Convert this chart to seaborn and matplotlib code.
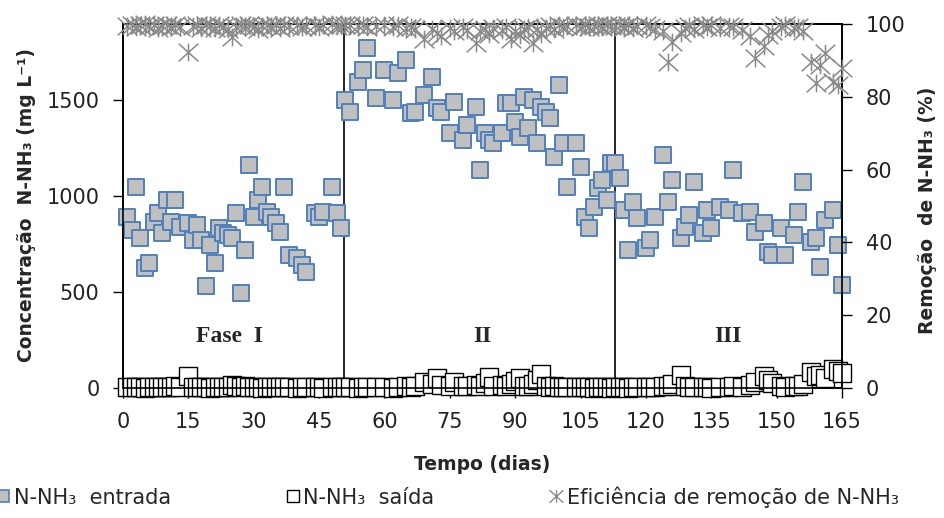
import numpy as np
import pandas as pd
import matplotlib
matplotlib.use("Agg")
import matplotlib.pyplot as plt
import seaborn as sns
from matplotlib.path import Path
from matplotlib.lines import Line2D

# ---------------- data ----------------
dias = [1, 2, 3, 4, 5, 6, 7, 8, 9, 10, 11, 12, 13, 15, 16, 17, 18, 19, 20, 21,
        22, 23, 24, 25, 26, 27, 28, 29, 30, 31, 32, 33, 34, 35, 36, 37, 38, 40, 41, 42,
        44, 45, 46, 48, 49, 50,
        51, 52, 54, 55, 56, 58, 60, 62, 63, 65, 66, 67, 69, 71, 72, 73, 75, 76, 78, 79,
        81, 82, 83, 84, 85, 87, 88, 89, 90, 91, 92, 93, 94, 95, 96, 97, 98, 99, 100, 101,
        102, 104, 105, 106, 107, 108, 109, 110, 111, 112,
        113, 114, 115, 116, 117, 118, 120, 121, 122, 124, 125, 126, 128, 129, 130, 131, 133, 134, 135, 137,
        139, 140, 142, 144, 145, 147, 148, 149, 151, 152, 154, 155, 156, 158, 159, 160, 161, 163, 164, 165]

entrada = [891, 823, 1047, 781, 625, 651, 865, 911, 807, 979, 865, 979, 838, 859, 771, 849, 771, 531, 745, 651,
           833, 807, 797, 781, 911, 495, 719, 1161, 891, 979, 1047, 917, 891, 859, 813, 1047, 693, 677, 641, 604,
           911, 891, 917, 1047, 911, 833,
           1500, 1438, 1594, 1656, 1771, 1510, 1656, 1500, 1640, 1708, 1432, 1438, 1526, 1620, 1458, 1438, 1328, 1490, 1292, 1370,
           1464, 1135, 1328, 1292, 1276, 1328, 1484, 1484, 1385, 1307, 1516, 1354, 1500, 1276, 1464, 1438, 1406, 1203, 1578, 1276,
           1047, 1276, 1151, 891, 833, 943, 1042, 1083, 979, 1172,
           1172, 1094, 927, 719, 969, 885, 729, 771, 891, 1214, 969, 1083, 781, 838, 901, 1073, 807, 927, 833, 943,
           927, 1135, 911, 917, 813, 859, 708, 693, 833, 693, 797, 917, 1073, 760, 781, 630, 875, 927, 745, 536]

saida = [4, 6, 3, 5, 2, 7, 4, 3, 6, 5, 3, 8, 4, 62, 5, 3, 6, 4, 2, 5,
         7, 4, 6, 18, 12, 5, 10, 3, 6, 4, 2, 5, 3, 6, 4, 3, 5, 2, 4, 6,
         3, 5, 2, 4, 3, 5,
         3, 5, 2, 4, 6, 3, 5, 2, 4, 8, 6, 12, 30, 20, 52, 15, 10, 31, 8, 12,
         18, 10, 25, 57, 12, 15, 8, 20, 35, 50, 12, 8, 22, 40, 73, 10, 6, 8, 4, 5,
         3, 6, 4, 3, 5, 2, 4, 3, 5, 2,
         4, 3, 5, 2, 6, 3, 4, 5, 3, 8, 12, 20, 68, 10, 6, 4, 3, 5, 2, 6,
         4, 8, 5, 15, 30, 62, 40, 25, 10, 6, 8, 12, 20, 83, 60, 70, 50, 99, 90, 80]

eficiencia = [99.5, 99.8, 99.2, 99.6, 99.9, 99.4, 99.7, 98.9, 99.5, 99.8, 99.3, 99.6, 99.1, 92.3, 99.4, 99.7, 99.0, 99.8, 99.5, 98.8,
              99.6, 99.3, 98.5, 96.4, 99.2, 99.7, 99.4, 99.8, 99.1, 98.6, 99.5, 99.8, 99.3, 99.6, 99.0, 99.7, 99.4, 99.8, 99.2, 99.5,
              99.7, 99.3, 99.6, 99.9, 99.4, 99.8,
              99.6, 99.8, 99.4, 99.7, 99.2, 99.5, 99.8, 99.1, 99.6, 98.8, 99.3, 98.5, 95.9, 98.6, 97.5, 96.7, 98.9, 98.2, 99.1, 98.4,
              94.8, 98.0, 98.6, 97.2, 99.0, 98.3, 99.2, 95.9, 98.1, 97.0, 98.7, 99.1, 94.8, 98.5, 97.3, 99.0, 99.4, 98.7, 99.6, 99.2,
              99.5, 99.7, 99.3, 99.6, 99.1, 99.5, 99.8, 99.2, 99.6, 99.4,
              99.5, 99.7, 99.2, 99.6, 99.0, 99.4, 99.8, 99.1, 98.6, 98.2, 89.6, 95.0, 97.5, 99.0, 99.4, 98.7, 99.6, 99.2, 99.8, 98.9,
              99.5, 99.1, 98.4, 96.7, 90.7, 94.0, 97.0, 98.2, 99.3, 99.6, 98.8, 99.2, 98.0, 89.6, 83.8, 88.7, 92.0, 84.0, 83.2, 88.0]

x_ticks = [0, 15, 30, 45, 60, 75, 90, 105, 120, 135, 150, 165]
y_left_ticks = [0, 500, 1000, 1500]
y_right_ticks = [0, 20, 40, 60, 80, 100]
limites_fase = [50.8, 112.8]
rotulos_fase = ["Fase  I", "II", "III"]
dias_rotulos_fase = [24.4, 82.5, 138.8]

df = pd.DataFrame({"dia": dias, "entrada": entrada, "saida": saida, "eficiencia": eficiencia})

# ---------------- style ----------------
sns.set_theme(style="white")
plt.rcParams["font.family"] = ["DejaVu Sans"]

W, H = 945, 518
fig = plt.figure(figsize=(W / 100, H / 100), dpi=100)
ax = fig.add_axes([123 / W, 1 - 388 / H, 719 / W, 364 / H])
ax2 = ax.twinx()

blue_edge = "#4f81bd"
sq_fill = "#c0c0c0"
ast_color = "#8a8a8a"

# asterisk marker (X + vertical bar)
ast_path = Path([(0, -0.9), (0, 0.9), (-1, -0.9), (1, 0.9), (-1, 0.9), (1, -0.9)],
                [Path.MOVETO, Path.LINETO, Path.MOVETO, Path.LINETO, Path.MOVETO, Path.LINETO])

sns.scatterplot(data=df, x="dia", y="entrada", marker="s", s=145, color=sq_fill,
                edgecolor=blue_edge, linewidth=1.4, ax=ax, clip_on=False, zorder=3)
sns.scatterplot(data=df, x="dia", y="saida", marker="s", s=185, color="white",
                edgecolor="black", linewidth=1.0, ax=ax, clip_on=False, zorder=4)
sns.scatterplot(data=df, x="dia", y="eficiencia", marker=ast_path, s=200, color=ast_color,
                edgecolor=ast_color, linewidth=1.1, ax=ax2, clip_on=False, zorder=3)

ax.set_xlim(0, 165)
ax.set_ylim(0, 1896)
ax2.set_ylim(0, 100)
ax.set_xticks(x_ticks)
ax.set_yticks(y_left_ticks)
ax2.set_yticks(y_right_ticks)
ax.set_xlabel("")
ax.set_ylabel("")
ax2.set_ylabel("")
ax.grid(False)
ax2.grid(False)

for a in (ax, ax2):
    for sp in a.spines.values():
        sp.set_color("black")
        sp.set_linewidth(1.2)
        sp.set_visible(True)

ax.tick_params(axis="x", direction="out", length=7, width=1, pad=10, labelsize=15,
               colors="black", labelcolor="#222222", bottom=True)
ax.tick_params(axis="y", direction="out", length=7, width=1, pad=10, labelsize=15,
               colors="black", labelcolor="#222222", left=True)
ax2.tick_params(axis="y", direction="out", length=7, width=1, pad=10, labelsize=15,
                colors="black", labelcolor="#222222", right=True)

for b in limites_fase:
    ax.axvline(b, color="black", lw=1.2, zorder=2)

for lab, d in zip(rotulos_fase, dias_rotulos_fase):
    ax.text(d, 266, lab, fontfamily="Liberation Serif", fontweight="bold", fontsize=17,
            ha="center", va="center", zorder=5)

fig.text(482 / W, 1 - 465 / H, "Tempo (dias)", fontsize=13.5, fontweight="bold",
         ha="center", va="center")
fig.text(27 / W, 1 - 205 / H, "Concentração  N-NH₃ (mg L⁻¹)", fontsize=13.5, fontweight="bold",
         rotation=90, ha="center", va="center")
fig.text(928 / W, 1 - 210 / H, "Remoção  de N-NH₃ (%)", fontsize=13.5, fontweight="bold",
         rotation=90, ha="center", va="center")

handles = [
    Line2D([], [], ls="none", marker="s", markersize=9, markerfacecolor=sq_fill,
           markeredgecolor=blue_edge, markeredgewidth=1.2),
    Line2D([], [], ls="none", marker="s", markersize=9, markerfacecolor="white",
           markeredgecolor="black", markeredgewidth=1.0),
    Line2D([], [], ls="none", marker=ast_path, markersize=10, color=ast_color,
           markeredgecolor=ast_color, markeredgewidth=1.0),
]
labels = ["N-NH₃  entrada", "N-NH₃  saída", "Eficiência de remoção de N-NH₃"]
fig.legend(handles, labels, loc="center left", bbox_to_anchor=(-6 / W, 1 - 497 / H),
           ncol=3, frameon=False, fontsize=15, columnspacing=5.4, handletextpad=0.05,
           handlelength=0.9, borderaxespad=0, borderpad=0)

fig.savefig("out.png", dpi=100)
